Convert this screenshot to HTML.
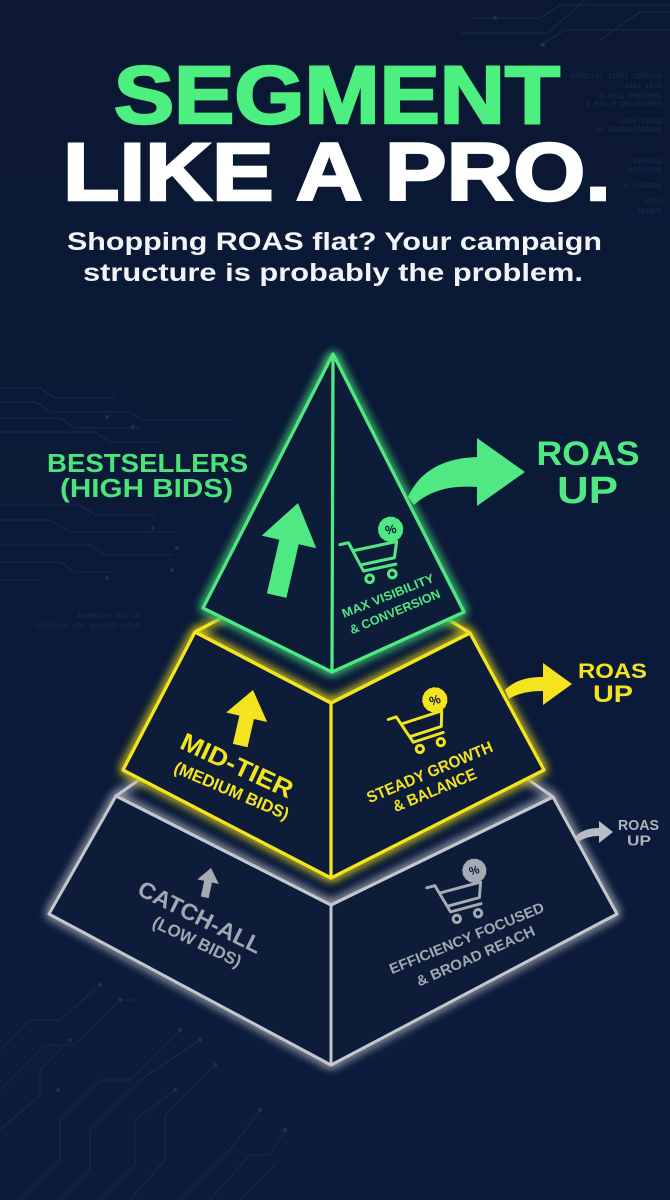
<!DOCTYPE html>
<html><head><meta charset="utf-8"><style>
html,body{margin:0;padding:0;background:#0b1a37;}
svg{display:block}
</style></head><body>
<svg width="670" height="1200" viewBox="0 0 670 1200" xmlns="http://www.w3.org/2000/svg" font-family="'Liberation Sans', Arial, sans-serif" font-weight="700">
<defs>
<linearGradient id="bg" x1="0" y1="0" x2="0" y2="1">
<stop offset="0" stop-color="#0a1833"/><stop offset="1" stop-color="#0c1c3d"/>
</linearGradient>
<filter id="glow" filterUnits="userSpaceOnUse" x="0" y="0" width="670" height="1200">
<feGaussianBlur in="SourceGraphic" stdDeviation="5" result="b"/>
<feMerge><feMergeNode in="b"/><feMergeNode in="b"/><feMergeNode in="SourceGraphic"/></feMerge>
</filter>
</defs>
<rect width="670" height="1200" fill="url(#bg)"/>

<!-- background circuit lines -->
<g stroke="#172a4f" stroke-width="1.1" fill="none">
<path d="M470,18 H540 L560,5 H670"/>
<path d="M460,33 H548 L585,0"/>
<path d="M540,45 L565,30 H670"/>
<path d="M600,40 L640,12 H670"/>
<path d="M0,388 H40 L55,398 H115"/>
<path d="M0,402 H35 L52,412 H130 L142,420 H230"/>
<path d="M0,418 H60 L75,428 H140"/>
<path d="M0,432 H95 L110,442 H160"/>
<path d="M0,505 H80 L95,515 H155"/>
<path d="M0,520 H50 L70,532 H175"/>
<path d="M0,545 H90 L105,555 H172"/>
<path d="M0,562 H60 L75,572 H110"/>
<path d="M0,580 H40"/>
<path d="M0,1050 L30,1020 H60 L100,985"/>
<path d="M0,1090 L45,1045 H75 L120,1000 H140"/>
<path d="M0,1130 L40,1095 V1070 L70,1040"/>
<path d="M20,1200 L60,1160 V1120 L100,1080 H130 L180,1030"/>
<path d="M60,1200 L90,1170 V1130 L140,1080 L200,1040"/>
<path d="M100,1200 L135,1165 V1120 L175,1090"/>
<path d="M130,1200 L165,1160 V1115 L215,1065"/>
<path d="M180,1200 L230,1150 L260,1110"/>
<path d="M210,1200 L250,1155 H270 L285,1130"/>
<path d="M240,1200 L275,1165"/>
</g>
<g fill="#1c3159">
<circle cx="543" cy="45" r="2"/><circle cx="495" cy="18" r="2"/><circle cx="107" cy="417" r="2"/><circle cx="133" cy="427" r="2"/>
<circle cx="153" cy="528" r="2"/><circle cx="177" cy="548" r="2"/><circle cx="172" cy="570" r="2"/><circle cx="107" cy="578" r="2"/>
<circle cx="100" cy="985" r="2"/><circle cx="120" cy="1000" r="2"/><circle cx="180" cy="1030" r="2"/><circle cx="200" cy="1040" r="2"/>
<circle cx="175" cy="1090" r="2"/><circle cx="215" cy="1065" r="2"/><circle cx="260" cy="1110" r="2"/><circle cx="285" cy="1130" r="2"/>
<circle cx="70" cy="1040" r="2"/><circle cx="58" cy="1090" r="2"/>
</g>
<g fill="#1b2f55" font-size="7" font-weight="400" font-family="'Liberation Mono', monospace" text-anchor="end">
<text x="662" y="78">10001101 11001 1000100</text>
<text x="662" y="88">1001 1011</text>
<text x="662" y="98">0 1011 10010001</text>
<text x="662" y="106">1 011 0 1011010001</text>
<text x="662" y="123">1010 11001</text>
<text x="662" y="132">10 1010101000001</text>
<text x="662" y="148">...</text>
<text x="662" y="163">1100101</text>
<text x="662" y="172">01010101</text>
<text x="662" y="188">0 1000001</text>
<text x="662" y="203">0101</text>
<text x="662" y="213">101001</text>
<text x="140" y="618" text-anchor="end">10000100    101  10</text>
<text x="140" y="628" text-anchor="end">11001110 101 001010 11010</text>
</g>

<!-- Title -->
<text x="337" y="123" font-size="82" fill="#4def80" stroke="#4def80" stroke-width="2.5" text-anchor="middle" textLength="446" lengthAdjust="spacingAndGlyphs">SEGMENT</text>
<text x="337" y="200" font-size="82" fill="#ffffff" stroke="#ffffff" stroke-width="2.5" text-anchor="middle" textLength="548" lengthAdjust="spacingAndGlyphs">LIKE A PRO.</text>
<text x="334.5" y="250" font-size="25" fill="#f2f4f8" text-anchor="middle" textLength="535" lengthAdjust="spacingAndGlyphs">Shopping ROAS flat? Your campaign</text>
<text x="333" y="281" font-size="25" fill="#f2f4f8" text-anchor="middle" textLength="500" lengthAdjust="spacingAndGlyphs">structure is probably the problem.</text>

<!-- GRAY TIER -->
<g filter="url(#glow)" stroke="#c3c6cc" stroke-width="3" stroke-linejoin="round" fill="none">
<path d="M116,796 L150,772 M553,797 L515,770"/>
<polygon points="116,796 49,914 331,1065 617,914 553,797 331,905" fill="#0b1a38"/>
<path d="M116,796 L331,905 L553,797 M331,905 L331,1065"/>
</g>
<path d="M576,836 C582,830 590,828 599,828 L599,821 L613,832 L599,843 L599,836 C591,836 584,838 578,842 Z" fill="#b9bcc3"/>
<text x="638.5" y="830" font-size="14.5" fill="#b0b4bc" text-anchor="middle" textLength="41" lengthAdjust="spacingAndGlyphs">ROAS</text>
<text x="639" y="845.5" font-size="15" fill="#b0b4bc" text-anchor="middle" textLength="24" lengthAdjust="spacingAndGlyphs">UP</text>
<path transform="translate(211,868) rotate(12)" d="M0,0 L11,14 L4,14 L4,30 L-4,30 L-4,14 L-11,14 Z" fill="#a6aab2"/>
<g fill="#a3a7b0" text-anchor="middle" dominant-baseline="central">
<text transform="translate(200,917) rotate(26.4)" font-size="23" textLength="135" lengthAdjust="spacingAndGlyphs">CATCH-ALL</text>
<text transform="translate(197,942) rotate(25.5)" font-size="17" textLength="96" lengthAdjust="spacingAndGlyphs">(LOW BIDS)</text>
<text transform="translate(467,939) rotate(-22.3)" font-size="14.5" textLength="166" lengthAdjust="spacingAndGlyphs">EFFICIENCY FOCUSED</text>
<text transform="translate(476,957) rotate(-24)" font-size="14.5" textLength="128" lengthAdjust="spacingAndGlyphs">&amp; BROAD REACH</text>
</g>
<g transform="translate(458,899) rotate(-15) scale(1.05)" fill="none" stroke="#a6aab2" stroke-width="2.8" stroke-linecap="round" stroke-linejoin="round">
<path d="M-26,-18 H-18 L-10,10 H20 M-15,-10 H25 L20,4 H-11"/>
<circle cx="-6" cy="18" r="3.5"/><circle cx="15" cy="18" r="3.5"/>
<g transform="translate(22,-22)"><circle r="10" fill="#a6aab2" stroke-width="3" stroke-dasharray="2 2.2"/>
<text x="0" y="0.5" font-size="11" fill="#0b1a38" stroke="none" text-anchor="middle" dominant-baseline="central">%</text></g>
</g>

<!-- YELLOW TIER -->
<g filter="url(#glow)" stroke="#f3e41f" stroke-width="3.3" stroke-linejoin="round" fill="none">
<path d="M195,632 L240,608 M470,633 L430,608"/>
<polygon points="195,632 123,770 331,878 544,770 470,633 331,703" fill="#0b1a38"/>
<path d="M195,632 L331,703 L470,633 M331,703 L331,878"/>
</g>
<path d="M505,690 C515,680 528,677 543,677 L543,663 L572,684 L543,705 L543,691 C530,691 518,693 509,699 Z" fill="#f3e41f"/>
<text x="612.5" y="678" font-size="21" fill="#f3e41f" text-anchor="middle" textLength="69" lengthAdjust="spacingAndGlyphs">ROAS</text>
<text x="613" y="702" font-size="24" fill="#f3e41f" text-anchor="middle" textLength="40" lengthAdjust="spacingAndGlyphs">UP</text>
<path transform="translate(253,690) rotate(13)" d="M0,0 L21,28 L7.5,28 L7.5,57 L-7.5,57 L-7.5,28 L-21,28 Z" fill="#f3e41f"/>
<g fill="#f3e41f" text-anchor="middle" dominant-baseline="central">
<text transform="translate(236.7,766) rotate(24.9)" font-size="25" textLength="121" lengthAdjust="spacingAndGlyphs">MID-TIER</text>
<text transform="translate(231.5,791) rotate(23)" font-size="17" textLength="123" lengthAdjust="spacingAndGlyphs">(MEDIUM BIDS)</text>
<text transform="translate(430,773) rotate(-22.8)" font-size="16" textLength="135" lengthAdjust="spacingAndGlyphs">STEADY GROWTH</text>
<text transform="translate(435,791) rotate(-22.6)" font-size="16" textLength="89" lengthAdjust="spacingAndGlyphs">&amp; BALANCE</text>
</g>
<g transform="translate(420,729) rotate(-18) scale(1.05)" fill="none" stroke="#f3e41f" stroke-width="2.8" stroke-linecap="round" stroke-linejoin="round">
<path d="M-26,-18 H-18 L-10,10 H20 M-15,-10 H25 L20,4 H-11"/>
<circle cx="-6" cy="18" r="3.5"/><circle cx="15" cy="18" r="3.5"/>
<g transform="translate(22,-22)"><circle r="10.5" fill="#f3e41f" stroke-width="3" stroke-dasharray="2 2.2"/>
<text x="0" y="0.5" font-size="12" fill="#0b1a38" stroke="none" text-anchor="middle" dominant-baseline="central">%</text></g>
</g>

<!-- GREEN TIER -->
<g filter="url(#glow)" stroke="#4fe882" stroke-width="3.3" stroke-linejoin="round" fill="none">
<polygon points="333,354 203,608 332,672 464,612" fill="#0b1a38"/>
<path d="M333,354 L332,672"/>
</g>
<path d="M408,497 C420,470 445,458 477,457 L477,438 L525,472 L477,506 L477,487 C452,485 430,490 414,505 Z" fill="#4fe882"/>
<text x="588" y="465" font-size="34" fill="#4fe882" text-anchor="middle" textLength="103" lengthAdjust="spacingAndGlyphs">ROAS</text>
<text x="587.5" y="503" font-size="38" fill="#4fe882" text-anchor="middle" textLength="61" lengthAdjust="spacingAndGlyphs">UP</text>
<text x="147.5" y="472" font-size="26" fill="#4be37c" text-anchor="middle" textLength="201" lengthAdjust="spacingAndGlyphs">BESTSELLERS</text>
<text x="146.5" y="497" font-size="26" fill="#4be37c" text-anchor="middle" textLength="173" lengthAdjust="spacingAndGlyphs">(HIGH BIDS)</text>
<path transform="translate(298,503) rotate(13)" d="M0,0 L28,40 L10,40 L10,95 L-10,95 L-10,40 L-28,40 Z" fill="#4fe882"/>
<g fill="#4fe882" text-anchor="middle" dominant-baseline="central">
<text transform="translate(388,596) rotate(-21.9)" font-size="12.5" textLength="98" lengthAdjust="spacingAndGlyphs">MAX VISIBILITY</text>
<text transform="translate(395,612) rotate(-22.7)" font-size="12.5" textLength="97" lengthAdjust="spacingAndGlyphs">&amp; CONVERSION</text>
</g>
<g transform="translate(372,558) rotate(-12) scale(1.1)" fill="none" stroke="#4fe882" stroke-width="2.8" stroke-linecap="round" stroke-linejoin="round">
<path d="M-26,-18 H-18 L-10,10 H20 M-15,-10 H25 L20,4 H-11"/>
<circle cx="-6" cy="18" r="3.5"/><circle cx="15" cy="18" r="3.5"/>
<g transform="translate(22,-22)"><circle r="10" fill="#4fe882" stroke-width="3" stroke-dasharray="2 2.2"/>
<text x="0" y="0.5" font-size="11.5" fill="#0b1a38" stroke="none" text-anchor="middle" dominant-baseline="central">%</text></g>
</g>
</svg>
</body></html>
